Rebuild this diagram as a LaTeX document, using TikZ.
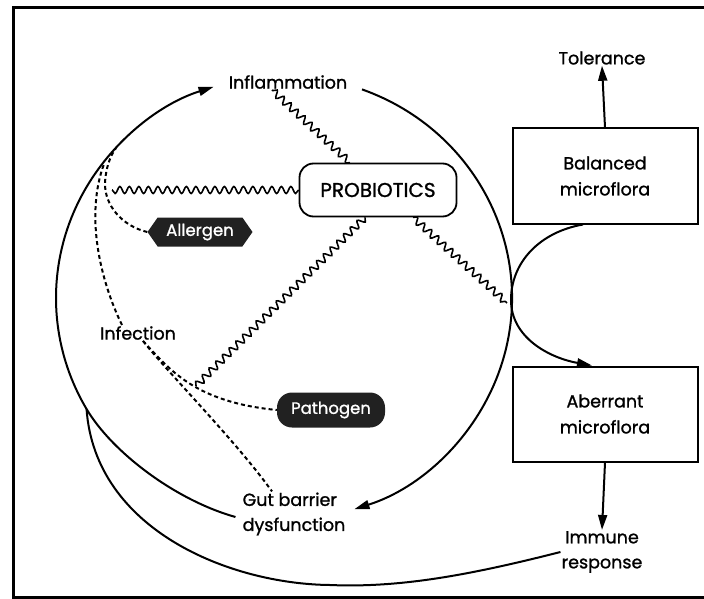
\documentclass[tikz,border=0pt]{standalone}
\usepackage{fontspec}
\setmainfont{Poppins}[FakeBold=1.2]
\usetikzlibrary{arrows.meta,decorations.pathmorphing,shapes.symbols,calc}

\begin{document}
\begin{tikzpicture}[x=1pt,y=-1pt,
  lbl/.style={font=\fontsize{17.5}{25}\selectfont, inner sep=1pt, align=center},
  flow/.style={line width=2pt},
  tip/.style={-{Triangle[length=15pt,width=9pt]}},
  wave/.style={line width=1.6pt, decorate,
    decoration={snake, segment length=9.5pt, amplitude=3.5pt}},
  dashline/.style={line width=2pt, dash pattern=on 4pt off 3pt},
  box/.style={draw, line width=2pt, minimum width=185pt, minimum height=95pt,
    align=center, font=\fontsize{17.5}{26}\selectfont},
  probox/.style={draw, line width=1.8pt, rounded corners=14pt, minimum width=157pt,
    minimum height=53pt, font=\fontsize{20}{24}\selectfont},
  darkfill/.style={fill=black!87, text=white, inner sep=1pt,
    font=\fontsize{16.5}{20}\selectfont}
]
\useasboundingbox (0,0) rectangle (704,599);

% frame
\draw[line width=3pt] (704,8) -- (13,8) -- (13,597) -- (704,597);

% labels and boxes
\node[lbl] (infl) at (288,82) {Inflammation};
\node[lbl] (tol) at (602,58) {Tolerance};
\node[box] (bal) at (605,176) {Balanced\\microflora};
\node[box] (aber) at (605,414) {Aberrant\\microflora};
\node[lbl] (imm) at (602,552) {Immune\\response};
\node[lbl] (inf) at (138,333) {Infection};
\node[lbl, align=left] (gut) at (294,514) {Gut barrier\\dysfunction};
\node[probox] (pro) at (378,190) {PROBIOTICS};
\node[darkfill, shape=signal, signal to=east and west, signal pointer angle=110,
  minimum width=105pt, minimum height=29pt] (all) at (200,232) {Allergen};
\node[darkfill, rounded corners=15pt, minimum width=108pt, minimum height=35pt]
  (pat) at (331,410) {Pathogen};

% points on the big loop
\coordinate (M) at ($(284,298)+(150:228 and 222)$);
\coordinate (A) at ($(284,298)+(-70:228 and 222)$);
\coordinate (ea) at (116,148);
\coordinate (eb) at (104,164);
\coordinate (ew) at (112,190);
\coordinate (wp) at (196,386);
\coordinate (er) at (507,303);
\coordinate (touch) at (511,300);
\coordinate (low) at (330,585);

% big loop: inflammation -> gut barrier dysfunction
\draw[flow,tip] (A) arc[start angle=-70, end angle=72, x radius=228, y radius=222];
% gut barrier dysfunction -> inflammation
\draw[flow,tip] ([xshift=-6,yshift=-3]gut.west) .. controls (175,500) and (112,452) .. (M)
  arc[start angle=150, end angle=252, x radius=228, y radius=222];
% immune response feeding back into the loop
\draw[flow] (imm.west) .. controls (470,575) and (400,588) .. (low)
  .. controls (230,584) and (95,530) .. (M);

% microflora side
\draw[flow,tip] (bal.north) -- (tol.south);
\draw[flow,tip] (aber.south) -- (imm.north);
\draw[flow,tip] ([xshift=-22]bal.south) .. controls (540,232) and (511,262) .. (touch)
  .. controls (511,338) and (550,358) .. ([xshift=-13]aber.north);

% probiotic actions
\draw[wave] (pro.west) -- (ew);
\draw[wave] ([xshift=-28]pro.north) -- ([xshift=-16]infl.south);
\draw[wave] ([xshift=-13]pro.south) -- (wp);
\draw[wave] ([xshift=35]pro.south) -- (er);

% triggers
\draw[dashline] (all.west) .. controls (122,226) and (104,205) .. (105,182)
  .. controls (106,168) and (110,156) .. (ea);
\draw[dashline] ([xshift=-16]inf.north) .. controls (100,280) and (85,215) .. (eb);
\draw[dashline] ([xshift=5]inf.south) .. controls (170,370) and (195,402) .. (pat.west);
\draw[dashline] ([xshift=5]inf.south) .. controls (170,375) and (235,440) .. ([xshift=-22]gut.north);
\end{tikzpicture}
\end{document}
